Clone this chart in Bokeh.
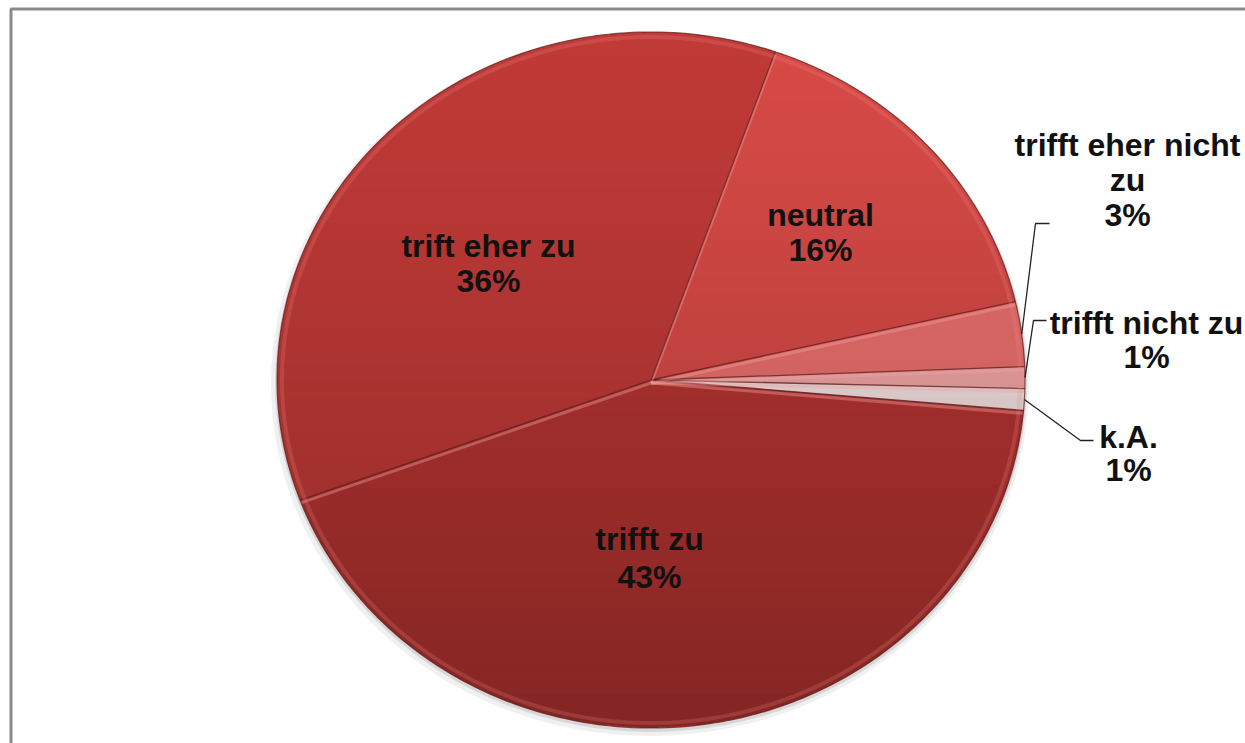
import numpy as np
from bokeh.plotting import figure
from bokeh.models import Range1d, ColumnDataSource
from bokeh.embed import file_html
from bokeh.resources import INLINE
from bokeh.core.properties import value

# ---------------- data ----------------
categories = ["k.A.", "trifft nicht zu", "trifft eher nicht zu", "neutral", "trift eher zu", "trifft zu"]
percent = [1, 1, 3, 16, 36, 43]
label_lines = [["k.A.", "1%"], ["trifft nicht zu", "1%"], ["trifft eher nicht", "zu", "3%"],
               ["neutral", "16%"], ["trift eher zu", "36%"], ["trifft zu", "43%"]]
slice_colors = ["#f4e2e2", "#f2a6a5", "#ea6f6c", "#d74a46", "#c03a37", "#b53431"]

# ---------------- layout ----------------
W, H = 1245, 743
CX, CY = 650.5, 379.5
RX, RY = 374.0, 348.0
START_DEG = -5.0
FONT = "Liberation Sans"
FSIZE = "32px"

# label anchors (x, first-line y, line spacing) in page pixels
label_pos = {
    "k.A.": (1128, 436, 33),
    "trifft nicht zu": (1146, 322, 34),
    "trifft eher nicht zu": (1127, 144, 35),
    "neutral": (820, 214, 35),
    "trift eher zu": (488, 245, 35),
    "trifft zu": (649, 538, 38),
}
# leader elbows for outside labels
leaders = {
    "trifft eher nicht zu": [(1035, 223), (1049, 223)],
    "trifft nicht zu": [(1033, 320), (1046, 320)],
    "k.A.": [(1080, 440), (1093, 440)],
}

p = figure(width=W, height=H, x_range=Range1d(0, W), y_range=Range1d(H, 0),
           output_backend="svg", toolbar_location=None, min_border=0,
           x_axis_location=None, y_axis_location=None)
p.grid.visible = False
p.outline_line_color = None
p.background_fill_color = "white"
p.border_fill_color = "white"

# chart frame (left and top edges visible)
p.line([10.5, 10.5, W + 5], [H + 5, 8.5, 8.5], line_color="#8a8a8a", line_width=3)

# shadow
p.ellipse(x=CX - 1, y=CY + 4, width=2 * RX + 10, height=2 * RY + 8,
          fill_color="black", fill_alpha=0.06, line_color=None)
p.ellipse(x=CX, y=CY + 2, width=2 * RX + 4, height=2 * RY + 4,
          fill_color="black", fill_alpha=0.10, line_color=None)

# slices
vals = np.array(percent, dtype=float)
edges = START_DEG + 360.0 * np.concatenate([[0], np.cumsum(vals)]) / vals.sum()
xs, ys = [], []
for a0, a1 in zip(edges[:-1], edges[1:]):
    t = np.radians(np.linspace(a0, a1, max(8, int((a1 - a0) * 2))))
    xs.append(np.concatenate([[CX], CX + RX * np.cos(t)]).tolist())
    ys.append(np.concatenate([[CY], CY - RY * np.sin(t)]).tolist())
src = ColumnDataSource(dict(xs=xs, ys=ys, color=slice_colors, name=categories))
p.patches("xs", "ys", source=src, fill_color="color", line_color=None)

# vertical shading (lighter top, darker bottom)
nb = 40
bx, by, ba = [], [], []
for k in range(nb):
    y0 = CY - RY + 2 * RY * k / nb
    y1 = CY - RY + 2 * RY * (k + 1) / nb
    yy = np.linspace(y0, y1, 6)
    hw = RX * np.sqrt(np.clip(1 - ((yy - CY) / RY) ** 2, 0, 1))
    bx.append(np.concatenate([CX - hw, (CX + hw)[::-1]]).tolist())
    by.append(np.concatenate([yy, yy[::-1]]).tolist())
    ba.append(0.27 * ((k + 0.5) / nb) ** 1.3)
p.patches(bx, by, fill_color="black", fill_alpha=ba, line_color=None)

# bevel highlights and separators
for a in edges[:-1]:
    r = np.radians(a)
    ex, ey = CX + RX * np.cos(r), CY - RY * np.sin(r)
    p.line([CX, ex], [CY + 3, ey + 3], line_color="#f4a0a0", line_width=3, line_alpha=0.4)
    p.line([CX, ex], [CY, ey], line_color="#5e1818", line_width=1.3, line_alpha=0.75)
tt = np.radians(np.linspace(0, 360, 400))
p.line(CX + (RX - 5) * np.cos(tt), CY - (RY - 5) * np.sin(tt), line_color="#f08a8a",
       line_width=4, line_alpha=0.22)
p.line(CX + RX * np.cos(tt), CY - RY * np.sin(tt), line_color="#5e1818", line_width=1.2, line_alpha=0.7)

# leader lines
for i, cat in enumerate(categories):
    if cat in leaders:
        mid = np.radians((edges[i] + edges[i + 1]) / 2)
        sx, sy = CX + RX * np.cos(mid), CY - RY * np.sin(mid)
        pts = [(sx, sy)] + leaders[cat]
        p.line([q[0] for q in pts], [q[1] for q in pts], line_color="#222222", line_width=1.3)

# labels
tx, ty, tt_ = [], [], []
for cat, lines in zip(categories, label_lines):
    x0, y0, dy = label_pos[cat]
    for j, s in enumerate(lines):
        tx.append(x0)
        ty.append(y0 + j * dy)
        tt_.append(s)
p.text(x=tx, y=ty, text=tt_, text_font=value(FONT), text_font_style="bold",
       text_font_size=FSIZE, text_align="center", text_baseline="middle", text_color="#111111")

open("out.html", "w").write(file_html(p, INLINE))
